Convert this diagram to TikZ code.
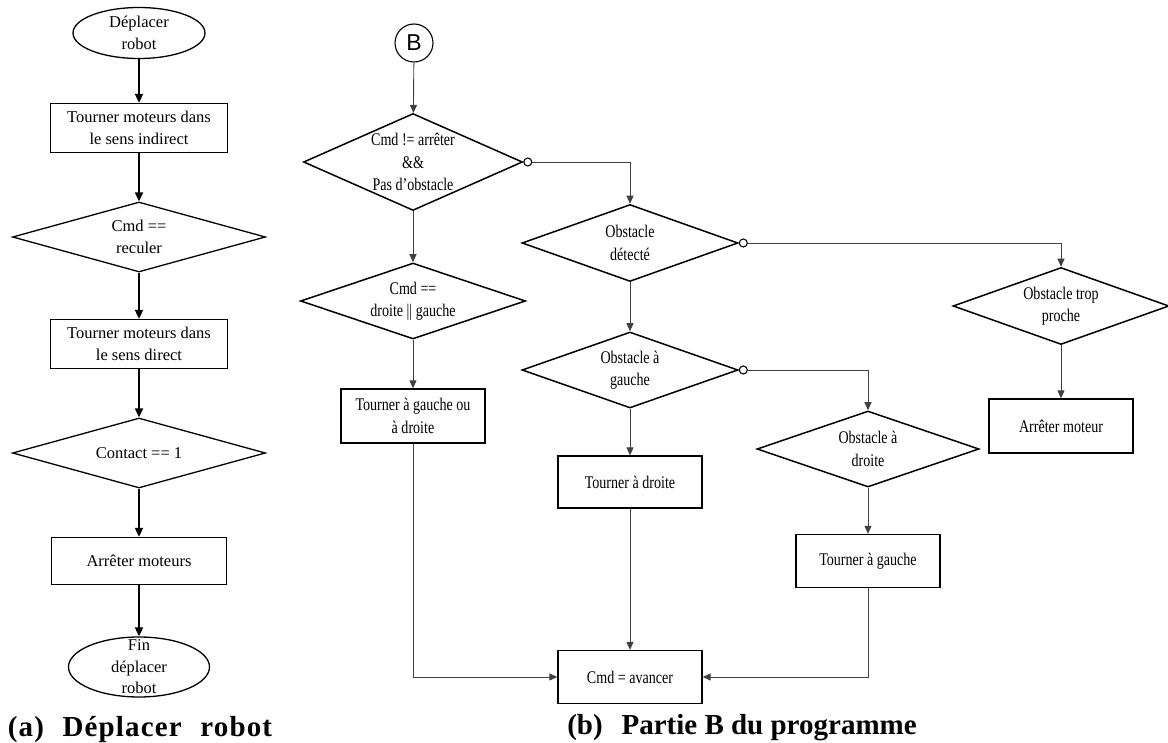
\documentclass[tikz,border=0pt]{standalone}
\usepackage{fontspec}
\setmainfont{Liberation Serif}
\setsansfont{Liberation Sans}
\newfontfamily\serrefont[FakeStretch=0.79]{Liberation Serif}
\newfontfamily\legfont[LetterSpace=4]{Liberation Serif}
\usetikzlibrary{positioning}
\usetikzlibrary{shapes.geometric}
\usetikzlibrary{arrows.meta}
\tikzset{
	>={Triangle[length=9pt,width=8pt]},
	% partie (a)
	boitea/.style={
		rectangle,
		draw=black, line width=1.3pt,
		minimum width=177pt,
		minimum height=49pt,
		align=center,
		font=\fontsize{16.5}{22}\selectfont},
	testa/.style={
		diamond, aspect=3.6,
		draw=black, line width=1.3pt,
		inner sep=0pt,
		minimum width=253pt,
		minimum height=70pt,
		align=center,
		font=\fontsize{16.5}{22}\selectfont},
	termea/.style={
		ellipse,
		draw=black, line width=1.3pt,
		inner sep=0pt},
	lignea/.style={draw, line width=1.8pt, ->},
	% partie (b)
	boiteb/.style={
		rectangle,
		draw=black, line width=1.3pt,
		minimum width=144pt,
		minimum height=53pt,
		align=center,
		font=\serrefont\fontsize{17.8}{22.5}\selectfont},
	testb/.style={
		diamond, aspect=2.8,
		draw=black, line width=1.5pt,
		inner sep=0pt,
		minimum width=216pt,
		minimum height=77pt,
		align=center,
		font=\serrefont\fontsize{17.8}{22.5}\selectfont},
	sortie/.style={circle, draw=black, fill=white, line width=1.1pt,
		inner sep=0pt, minimum size=8pt, anchor=west},
	ligneb/.style={draw=black!75, line width=0.9pt, ->, >={Triangle[length=8pt,width=7pt]}},
	legende/.style={anchor=base, font=\bfseries\fontsize{29}{32}\selectfont},
}

\begin{document}
\begin{tikzpicture}[x=1pt, y=-1pt]
	\useasboundingbox (0,0) rectangle (1168,743);

	% (a) Deplacer robot
	\node[termea, minimum width=132pt, minimum height=51pt,
		label={[align=center, font=\fontsize{16.5}{22}\selectfont]center:Déplacer\\robot}] (debut) at (139,33) {};
	\node[boitea] (indirect) at (139,128) {Tourner moteurs dans\\le sens indirect};
	\node[testa] (reculer) at (139,237) {Cmd ==\\reculer};
	\node[boitea] (direct) at (139,344) {Tourner moteurs dans\\le sens direct};
	\node[testa] (contact) at (139,453) {Contact == 1};
	\node[boitea, minimum width=175pt, minimum height=47pt] (arretm) at (139,561) {Arrêter moteurs};
	\node[termea, minimum width=141pt, minimum height=60pt,
		label={[align=center, font=\fontsize{16.5}{21.5}\selectfont]center:Fin\\déplacer\\robot}] (fin) at (139,667) {};

	\draw[lignea] (debut) -- (indirect);
	\draw[lignea] (indirect) -- (reculer);
	\draw[lignea] (reculer) -- (direct);
	\draw[lignea] (direct) -- (contact);
	\draw[lignea] (contact) -- (arretm);
	\draw[lignea] (arretm) -- (fin);

	\node[legende, font=\legfont\bfseries\fontsize{29}{32}\selectfont] (legendea) at (140,736)
		{(a)\hspace{0.35em} Déplacer\hspace{0.35em} robot};

	% (b) Partie B
	\node[circle, draw=black, line width=1.1pt, minimum size=38pt, inner sep=0pt,
		font=\sffamily\fontsize{23}{24}\selectfont] (B) at (414,43) {B};

	\node[testb, minimum width=219pt, minimum height=97pt, aspect=2.25] (nonarret) at (413,162)
		{Cmd != arrêter\\\&\&\\Pas d’obstacle};
	\node[sortie] (o1) at (nonarret.east) {};
	\node[testb, minimum width=225pt, minimum height=76pt] (cmddg) at (413,301)
		{Cmd ==\\droite || gauche};
	\node[boiteb, minimum height=54pt] (tdg) at (413,416) {Tourner à gauche ou\\à droite};

	\node[testb] (detecte) at (630,243) {Obstacle\\détecté};
	\node[sortie] (o2) at (detecte.east) {};
	\node[testb, minimum height=76pt] (gauche) at (630,370) {Obstacle à\\gauche};
	\node[sortie] (o3) at (gauche.east) {};
	\node[boiteb, minimum height=52pt] (tdroite) at (630,482) {Tourner à droite};
	\node[boiteb] (avancer) at (630,677) {Cmd = avancer};

	\node[testb, minimum width=222pt, minimum height=76pt] (droite) at (868,449) {Obstacle à\\droite};
	\node[boiteb] (tgauche) at (868,561) {Tourner à gauche};

	\node[testb] (proche) at (1061,306) {Obstacle trop\\proche};
	\node[boiteb, minimum height=54pt] (arret) at (1061,426) {Arrêter moteur};

	\draw[ligneb] (B) -- (nonarret);
	\draw[ligneb] (nonarret.south) -- (cmddg.north);
	\draw[ligneb] (cmddg.south) -- (tdg.north);
	\draw[ligneb] (tdg.south) |- (avancer.west);

	\draw[ligneb] (o1.east) -| (detecte.north);
	\draw[ligneb] (detecte.south) -- (gauche.north);
	\draw[ligneb] (gauche.south) -- (tdroite.north);
	\draw[ligneb] (tdroite.south) -- (avancer.north);

	\draw[ligneb] (o2.east) -| (proche.north);
	\draw[ligneb] (proche.south) -- (arret.north);

	\draw[ligneb] (o3.east) -| (droite.north);
	\draw[ligneb] (droite.south) -- (tgauche.north);
	\draw[ligneb] (tgauche.south) |- (avancer.east);

	\node[legende] (legendeb) at (742,734) {(b)\hspace{0.4em} Partie B du programme};
\end{tikzpicture}
\end{document}
